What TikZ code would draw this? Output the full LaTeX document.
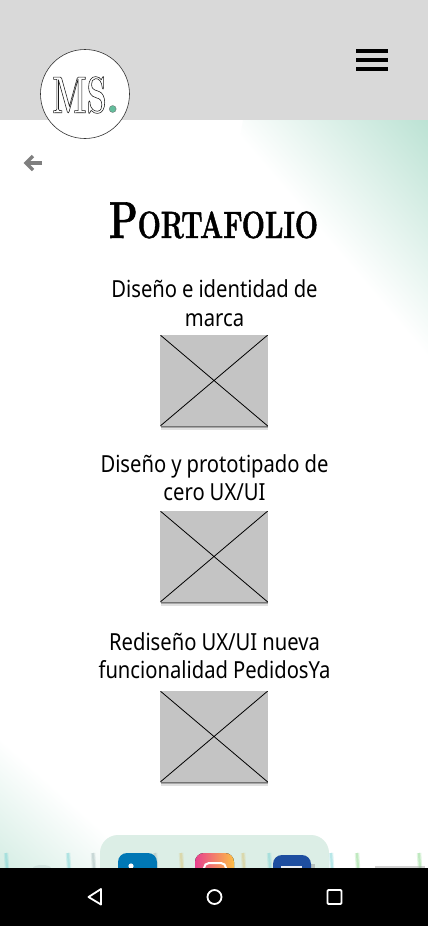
\documentclass[tikz,border=0pt]{standalone}
\usepackage{fontspec}
\usetikzlibrary{shadows}
\newfontfamily\labelfont[FakeStretch=0.86]{Noto Sans}
\newfontfamily\titlefont[FakeStretch=0.72,BoldFeatures={FakeBold=1.2}]{Latin Modern Roman}
\newfontfamily\monofont[FakeStretch=0.62]{Latin Modern Roman}
\definecolor{headgray}{HTML}{D9D9D9}
\definecolor{thumbgray}{HTML}{C4C4C4}
\definecolor{mintfade}{HTML}{B9E1D2}
\definecolor{mintpill}{HTML}{DCEEE6}
\definecolor{mintdot}{HTML}{63BD9C}
\definecolor{arrowgray}{HTML}{7F7F7F}
\definecolor{linkedblue}{HTML}{0077B5}
\definecolor{faceblue}{HTML}{1E4EA0}
\definecolor{instapink}{HTML}{E8408F}
\definecolor{instagold}{HTML}{FDBE45}
\definecolor{ticktea}{HTML}{7FD4D6}
\definecolor{tickgreen}{HTML}{8FD98F}
\definecolor{ticktan}{HTML}{D9C77F}
\definecolor{tickgray}{HTML}{A8BDBD}
\newcommand{\outlinetext}[1]{\special{pdf:code 1 Tr 0.55 w}#1\special{pdf:code 0 Tr}}
\begin{document}
\begin{tikzpicture}[
  x=1pt,y=-1pt,
  heading/.style={font=\labelfont\fontsize{23.5}{28.5}\selectfont,align=center,text width=260pt,inner sep=0pt,
    execute at begin node={\spaceskip=5pt\relax}},
  softshadow/.style={drop shadow={shadow xshift=#1,shadow yshift=-1pt,opacity=.3,fill=black},
    drop shadow={shadow xshift=#1,shadow yshift=-2.2pt,opacity=.25,fill=black},
    drop shadow={shadow xshift=#1,shadow yshift=-3.6pt,opacity=.12,fill=black}},
  thumb/.style={fill=thumbgray,minimum width=107.5pt,minimum height=91pt,inner sep=0pt,
    softshadow=.6pt,
    path picture={\draw[line width=.8pt] (path picture bounding box.north west) -- (path picture bounding box.south east)
      (path picture bounding box.north east) -- (path picture bounding box.south west);}},
  softkey/.style={draw=white,line width=1.8pt,line join=round}
]
\useasboundingbox (0,0) rectangle (428,926);
\fill[white] (0,0) rectangle (428,926);

% corner washes
\begin{scope}
\clip (243,120) -- (428,120) -- (428,400) -- (200,400) -- cycle;
\shade[transform canvas={shift={(238,135)},rotate=-49.5},top color=mintfade,bottom color=white] (-200,0) rectangle (500,-160);
\end{scope}
\begin{scope}
\clip (0,740) rectangle (214,868);
\shade[transform canvas={shift={(0,738)},rotate=-42},top color=white,bottom color=mintfade!62] (-100,0) rectangle (400,100);
\end{scope}

% header
\fill[headgray] (0,0) rectangle (428,120);
\node[circle,draw=black!80,fill=white,line width=.6pt,minimum size=89pt,inner sep=0pt] (logo) at (85,94) {};
\node[font=\monofont\bfseries\fontsize{52}{52}\selectfont,inner sep=0pt,black!90] (mono) at (79.5,95) {\outlinetext{MS}};
\node[circle,fill=mintdot,draw=black!60,line width=.3pt,minimum size=7pt,inner sep=0pt] (dot) at (112.7,109) {};
\foreach \y in {51,60,69}
  \fill[black] (356,\y-1.6) rectangle (388,\y+1.6);

% back arrow
\coordinate (backtail) at (42,163);
\coordinate (backhead) at (26,163);
\draw[arrowgray,line width=3.2pt] (backtail) -- (backhead);
\draw[arrowgray,line width=3.2pt] (33,156) -- (backhead) -- (33,170);

% title and entries
\node[inner sep=0pt,anchor=base,font=\titlefont\bfseries] (title) at (213.5,238) {\fontsize{52}{52}\selectfont P\fontsize{38}{38}\selectfont ORTAFOLIO};

\node[heading] (brand) at (214.5,303) {Diseño e identidad de\\marca};
\node[thumb] (brandimg) at (214,380.5) {};
\node[heading] (proto) at (214.5,477.5) {Diseño y prototipado de\\cero UX/UI};
\node[thumb] (protoimg) at (214,556.5) {};
\node[heading] (pedidos) at (214.5,655.5) {Rediseño UX/UI nueva\\funcionalidad PedidosYa};
\node[thumb] (pedidosimg) at (214,736.5) {};

% social strip
\fill[mintpill,rounded corners=18pt] (100,835) rectangle (329,900);
\foreach \x/\c in {6/ticktea,68/ticktea,93/tickgray,155/tickgray,181/ticktan,243/ticktan,269/ticktea,331/ticktea,357/tickgreen,419/tickgreen} {
  \draw[\c,line width=4.5pt,opacity=.25] (\x,853) -- (\x+1,868);
  \draw[\c,line width=2.2pt,opacity=.4] (\x,853) -- (\x+1,868);
}
\fill[tickgray,opacity=.25] (42,868) ellipse (9 and 3);
\fill[black!35,opacity=.5] (375,866) rectangle (425,868);
\fill[black!40,opacity=.5] (311,864) rectangle (315,868);
\fill[linkedblue,rounded corners=9pt] (118,853) rectangle (157,890);
\fill[white] (131,866) circle (2.6pt);
\fill[left color=instapink,right color=instagold,rounded corners=9pt] (195,853) rectangle (234,890);
\draw[white,line width=2pt,rounded corners=5pt] (204,863) rectangle (226,885);
\fill[faceblue,rounded corners=9pt] (273,855) rectangle (311,890);
\fill[white,opacity=.9] (281,866) rectangle (302,868);

% navigation bar
\fill[black] (0,868) rectangle (428,926);
\draw[softkey] (101,889) -- (88.5,897) -- (101,904.5) -- cycle;
\node[circle,softkey,minimum size=14pt,inner sep=0pt] (homekey) at (214.5,897) {};
\draw[softkey,rounded corners=1pt] (327.5,890) rectangle (341.5,904);
\end{tikzpicture}
\end{document}
